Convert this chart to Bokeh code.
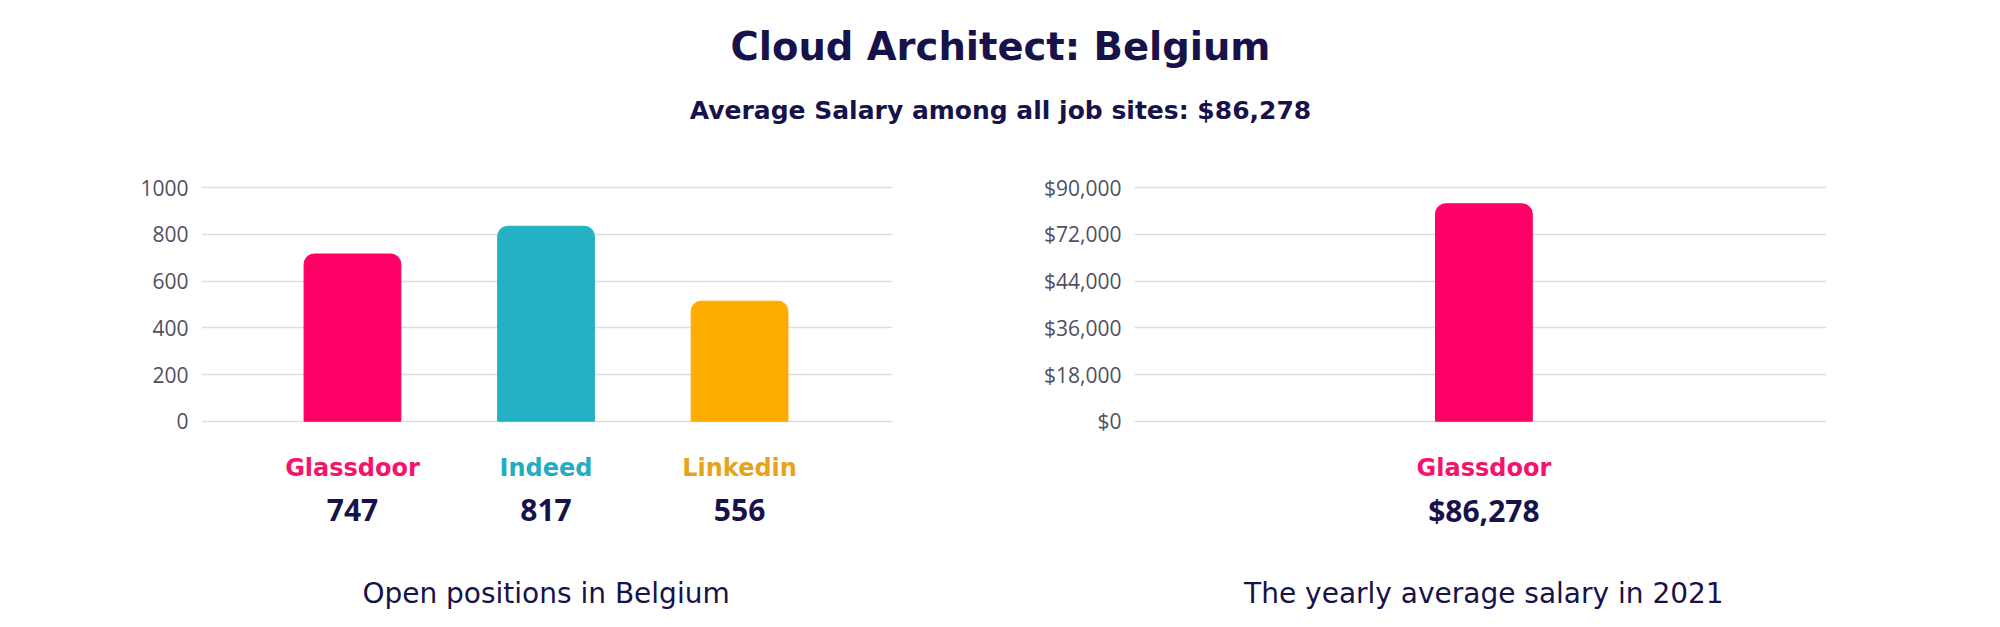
from bokeh.plotting import figure
from bokeh.layouts import column, row
from bokeh.models import Range1d, FixedTicker, ColumnDataSource
from bokeh.core.properties import value
from bokeh.embed import file_html
from bokeh.resources import INLINE

# ---------------- data ----------------
title_text = "Cloud Architect: Belgium"
subtitle_text = "Average Salary among all job sites: $86,278"

sites = ["Glassdoor", "Indeed", "Linkedin"]
bar_colors = ["#ff0066", "#25b1c4", "#ffac00"]
label_colors = ["#f5136b", "#26abc0", "#e8a31d"]
open_positions = [747, 817, 556]          # printed counts
open_bar_heights = [716, 835, 514]        # bar heights as drawn against the axis
positions_ticks = [0, 200, 400, 600, 800, 1000]
positions_caption = "Open positions in Belgium"

salary_sites = ["Glassdoor"]
salary_bar_colors = ["#ff0066"]
salary_label_colors = ["#f5136b"]
salary_values = [86278]
salary_bar_heights = [83800]
salary_tick_values = [0, 18000, 36000, 54000, 72000, 90000]
salary_tick_labels = ["$0", "$18,000", "$36,000", "$44,000", "$72,000", "$90,000"]
salary_caption = "The yearly average salary in 2021"

# ---------------- style / layout ----------------
NAVY = "#17134a"
TICK_COLOR = "#50505f"
GRID_COLOR = "#dedede"
BOLD_FONT = value("DejaVu Sans")
REG_FONT = value("DejaVu Sans")
NUM_FONT = value("Open Sans")

TOTAL_W = 2000
HEAD_H = 148
CHART_H = 479
ZERO_PX = 272.7      # local pixel (from chart top) of the zero gridline
AXIS_PX = 233.5      # pixel length of the full tick span
LABEL_PX = 319       # baselines of the texts below the bars
NUMBER_PX = 361.5
CAPTION_PX = 444.5


def y_at(px, axis_max):
    return (ZERO_PX - px) / AXIS_PX * axis_max


def base_fig(width, border_left, border_right, x_range, axis_max):
    p = figure(width=width, height=CHART_H, output_backend="svg",
               toolbar_location=None, x_range=x_range,
               y_range=Range1d(y_at(CHART_H, axis_max), y_at(0, axis_max)),
               min_border_left=border_left, min_border_right=border_right,
               min_border_top=0, min_border_bottom=0, x_axis_type=None)
    p.outline_line_color = None
    p.background_fill_color = "white"
    p.border_fill_color = "white"
    p.xgrid.visible = False
    p.ygrid.grid_line_color = GRID_COLOR
    p.ygrid.grid_line_width = 1.5
    ax = p.yaxis[0]
    ax.axis_line_color = None
    ax.major_tick_line_color = None
    ax.minor_tick_line_color = None
    ax.major_tick_out = 0
    ax.major_tick_in = 0
    ax.major_label_standoff = 13
    ax.major_label_text_font = "Open Sans"
    ax.major_label_text_font_size = "21px"
    ax.major_label_text_color = TICK_COLOR
    return p


def add_texts(p, xs, labels, label_colors, numbers, caption, caption_x, axis_max):
    p.text(x=xs, y=[y_at(LABEL_PX, axis_max)] * len(xs), text=labels,
           text_color=label_colors, text_font=BOLD_FONT, text_font_style="bold",
           text_font_size="24px", text_align="center", text_baseline="alphabetic")
    p.text(x=xs, y=[y_at(NUMBER_PX, axis_max)] * len(xs), text=numbers,
           text_color=NAVY, text_font=NUM_FONT, text_font_style="bold",
           text_font_size="30px", text_align="center", text_baseline="alphabetic")
    p.text(x=[caption_x], y=[y_at(CAPTION_PX, axis_max)], text=[caption],
           text_color=NAVY, text_font=REG_FONT,
           text_font_size="28px", text_align="center", text_baseline="alphabetic")


# ---------------- header ----------------
head = figure(width=TOTAL_W, height=HEAD_H, output_backend="svg",
              toolbar_location=None, x_range=Range1d(0, TOTAL_W),
              y_range=Range1d(HEAD_H, 0), x_axis_type=None, y_axis_type=None,
              min_border=0)
head.outline_line_color = None
head.grid.visible = False
head.text(x=[TOTAL_W / 2], y=[45.5], text=[title_text], text_color=NAVY,
          text_font=BOLD_FONT, text_font_style="bold", text_font_size="38.5px",
          text_align="center", text_baseline="alphabetic")
head.text(x=[TOTAL_W / 2], y=[109.7], text=[subtitle_text], text_color=NAVY,
          text_font=BOLD_FONT, text_font_style="bold", text_font_size="25px",
          text_align="center", text_baseline="alphabetic")

# ---------------- left chart: open positions ----------------
xs_left = list(range(len(sites)))
left = base_fig(1000, 201, 108, Range1d(-0.78, 2.79), positions_ticks[-1])
left.yaxis[0].ticker = FixedTicker(ticks=positions_ticks)
left.ygrid.ticker = FixedTicker(ticks=positions_ticks)
src_left = ColumnDataSource(dict(x=xs_left, top=open_bar_heights, color=bar_colors))
left.vbar(x="x", top="top", bottom=0, width=0.5, color="color", source=src_left,
          border_radius=(10, 10, 0, 0))
add_texts(left, xs_left, sites, label_colors, [str(v) for v in open_positions],
          positions_caption, 1, positions_ticks[-1])

# ---------------- right chart: salary ----------------
xs_right = list(range(len(salary_sites)))
right = base_fig(1000, 134, 174, Range1d(-1.805, 1.770), salary_tick_values[-1])
right.yaxis[0].ticker = FixedTicker(ticks=salary_tick_values)
right.ygrid.ticker = FixedTicker(ticks=salary_tick_values)
right.yaxis[0].major_label_overrides = {v: l for v, l in zip(salary_tick_values, salary_tick_labels)}
src_right = ColumnDataSource(dict(x=xs_right, top=salary_bar_heights, color=salary_bar_colors))
right.vbar(x="x", top="top", bottom=0, width=0.5, color="color", source=src_right,
           border_radius=(10, 10, 0, 0))
add_texts(right, xs_right, salary_sites, salary_label_colors,
          ["${:,}".format(v) for v in salary_values], salary_caption, 0,
          salary_tick_values[-1])

layout = column(head, row(left, right, spacing=0), spacing=0)
open("out.html", "w").write(file_html(layout, INLINE))
